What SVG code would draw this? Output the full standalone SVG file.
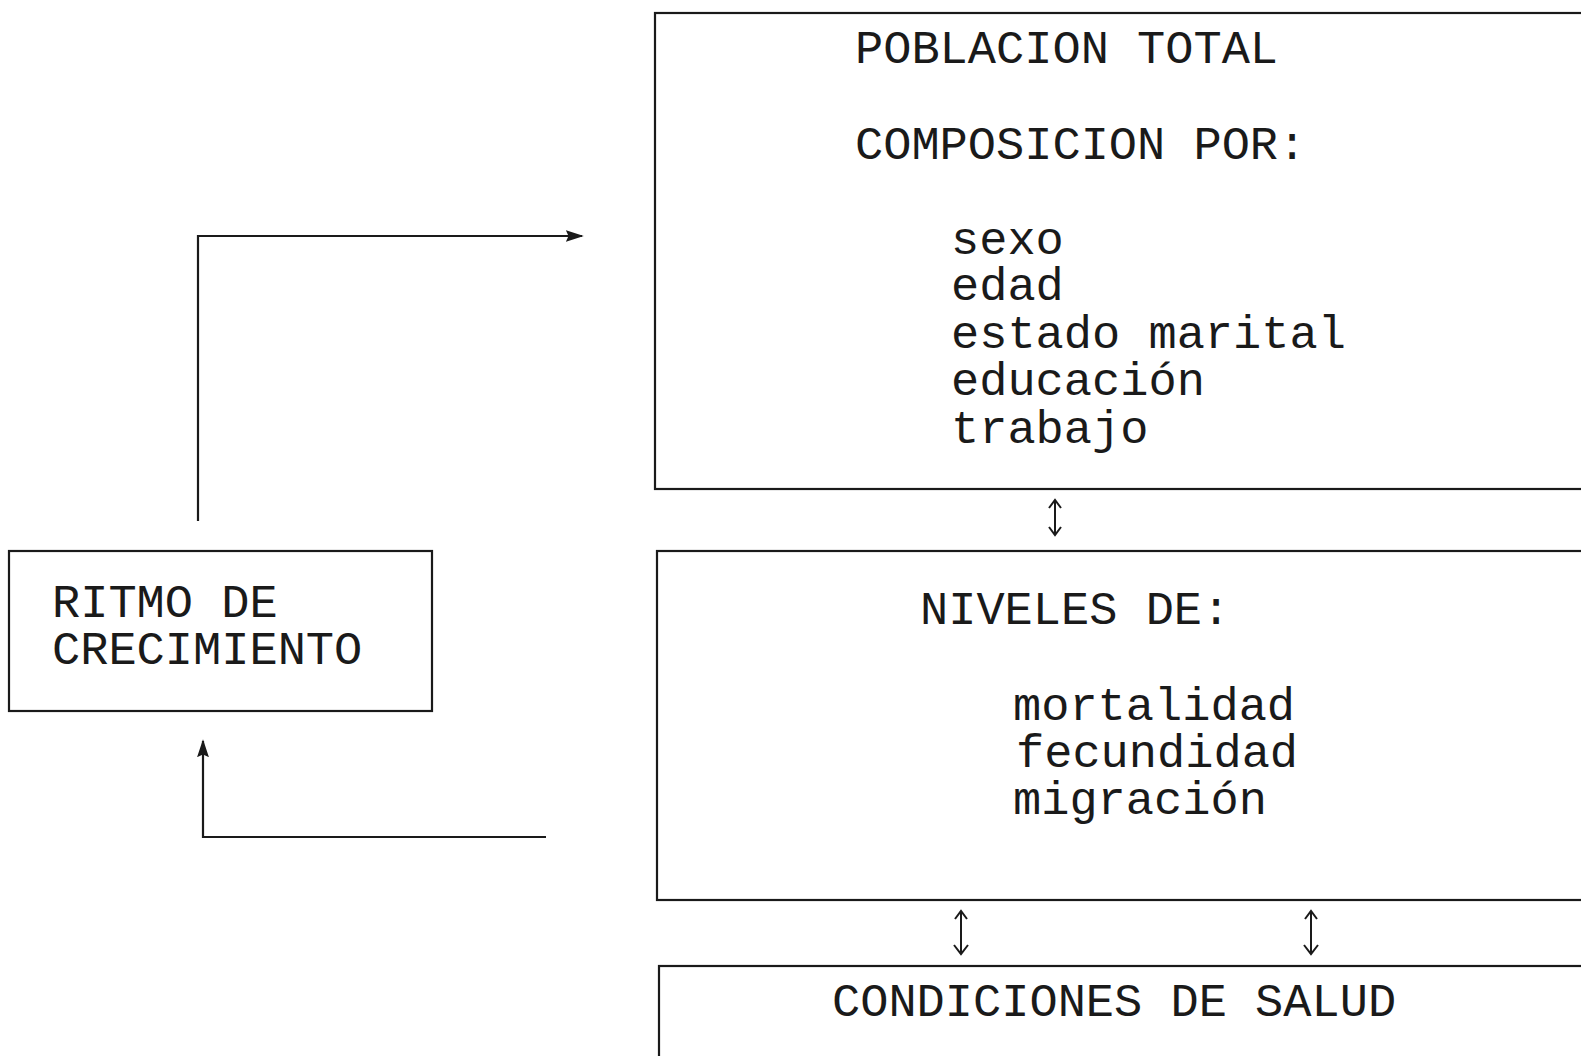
<svg xmlns="http://www.w3.org/2000/svg" width="1581" height="1056" viewBox="0 0 1581 1056">
<style>
.box{fill:none;stroke:#1a1a1a;stroke-width:2.2}
.t{font-family:"Liberation Mono","Courier New",monospace;font-size:47px;fill:#1a1a1a}
.c{fill:none;stroke:#1a1a1a;stroke-width:2.2}
.dh{fill:none;stroke:#1a1a1a;stroke-width:2}
</style>
<defs>
<marker id="ah" viewBox="0 0 10 10" refX="9" refY="5" markerWidth="18" markerHeight="18" markerUnits="userSpaceOnUse" orient="auto">
<path d="M0,1.7 L10,5 L0,8.3 L1.5,5 Z" fill="#1a1a1a"/>
</marker>
</defs>
<rect width="1581" height="1056" fill="#fff"/>
<g id="poblacion">
<rect class="box" x="655" y="13" width="960" height="476"/>
<text class="t" x="855" y="63">POBLACION TOTAL</text>
<text class="t" x="855" y="159">COMPOSICION POR:</text>
<text class="t" x="951" y="254">sexo</text>
<text class="t" x="951" y="300">edad</text>
<text class="t" x="951" y="348">estado marital</text>
<text class="t" x="951" y="395">educación</text>
<text class="t" x="951" y="443">trabajo</text>
</g>
<g id="niveles">
<rect class="box" x="657" y="551" width="960" height="349"/>
<text class="t" x="920" y="624">NIVELES DE:</text>
<text class="t" x="1013" y="720">mortalidad</text>
<text class="t" x="1016" y="767">fecundidad</text>
<text class="t" x="1013" y="814">migración</text>
</g>
<g id="condiciones">
<rect class="box" x="659" y="966" width="960" height="120"/>
<text class="t" x="832" y="1016">CONDICIONES DE SALUD</text>
</g>
<g id="ritmo">
<rect class="box" x="9" y="551" width="423" height="160"/>
<text class="t" x="52" y="617">RITMO DE</text>
<text class="t" x="52" y="664">CRECIMIENTO</text>
</g>
<g id="connectors">
<path class="c" d="M198,521 V236 H582" marker-end="url(#ah)"/>
<path class="c" d="M546,837 H203 V741" marker-end="url(#ah)"/>
<path class="dh" d="M1055,501 V534 M1049,508 L1055,500 L1061,508 M1049,527 L1055,535 L1061,527"/>
<path class="dh" d="M961,912 V953 M955,919 L961,911 L967,919 M954,945 L961,954 L968,945"/>
<path class="dh" d="M1311,912 V953 M1305,919 L1311,911 L1317,919 M1304,945 L1311,954 L1318,945"/>
</g>
</svg>
